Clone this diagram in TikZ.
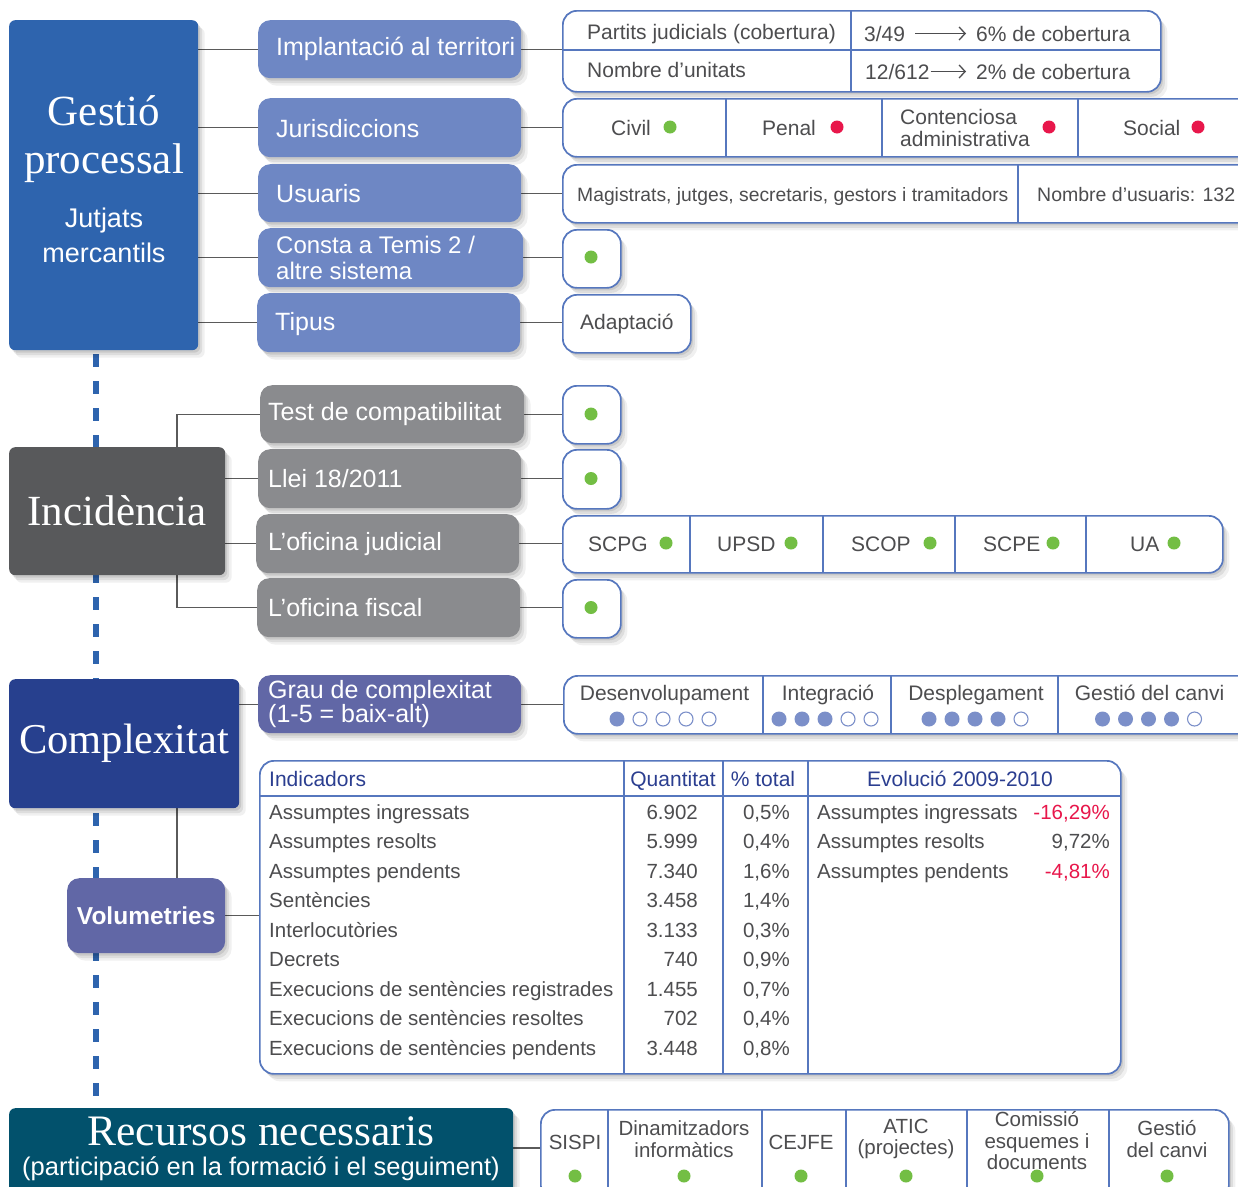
\documentclass[tikz,border=0pt]{standalone}
\usepackage{fontspec}
\setsansfont{Liberation Sans}
\renewcommand{\familydefault}{\sfdefault}
\newfontfamily\ttlfont{Liberation Serif}
\usetikzlibrary{shadows,arrows.meta}
\pgfdeclarelayer{bg}
\pgfsetlayers{bg,main}
\definecolor{gpblue}{HTML}{2E64AE}
\definecolor{midblue}{HTML}{6E87C4}
\definecolor{incgray}{HTML}{58595B}
\definecolor{midgray}{HTML}{8A8B8E}
\definecolor{cxblue}{HTML}{27408E}
\definecolor{purp}{HTML}{6167A6}
\definecolor{recteal}{HTML}{02516C}
\definecolor{bordblue}{HTML}{5677BE}
\definecolor{dotgreen}{HTML}{73BE44}
\definecolor{dotred}{HTML}{E8174B}
\definecolor{textgray}{HTML}{4D4D4F}
\definecolor{hdrblue}{HTML}{2B3E90}
\definecolor{circblue}{HTML}{7B8FC9}
\definecolor{linegray}{HTML}{5A5A5A}
\newcommand\greendot[2]{\fill[dotgreen] (#1,#2) circle[radius=6.5pt];}
\newcommand\reddot[2]{\fill[dotred] (#1,#2) circle[radius=6.5pt];}
\newcommand\ratecircles[2]{\foreach \k in {0,...,4}{\pgfmathsetmacro\xx{#1+(\k-2)*23}\ifnum\k<#2 \fill[circblue] (\xx,719) circle[radius=7.5pt];\else \draw[circblue,line width=1.1pt,fill=white] (\xx,719) circle[radius=7pt];\fi}}
\tikzset{
  shad/.style={drop shadow={shadow xshift=2pt,shadow yshift=-2.5pt,opacity=0.09,fill=black},
               drop shadow={shadow xshift=4pt,shadow yshift=-5pt,opacity=0.08,fill=black},
               drop shadow={shadow xshift=6.5pt,shadow yshift=-7.5pt,opacity=0.06,fill=black}},
  mainbox/.style={anchor=north west, rounded corners=6pt, text=white, inner sep=0pt, shad},
  midbox/.style={anchor=north west, rounded corners=12pt, inner sep=0pt, shad},
  midlbl/.style={text=white, inner sep=0pt, align=left, anchor=west, font=\fontsize{25}{26}\selectfont},
  cellbox/.style={anchor=north west, rounded corners=14pt, draw=bordblue, line width=1.7pt, fill=white, inner sep=0pt, shad},
  conn/.style={draw=linegray, line width=1.3pt},
  divl/.style={draw=bordblue, line width=1.7pt},
  lbl/.style={text=textgray, inner sep=0pt, font=\fontsize{21}{22}\selectfont},
  tlbl/.style={text=textgray, inner sep=0pt, font=\fontsize{20.5}{22}\selectfont},
  hlbl/.style={text=hdrblue, inner sep=0pt, font=\fontsize{21}{22}\selectfont},
  ttl/.style={text=white, inner sep=0pt, font=\ttlfont\fontsize{43}{46}\selectfont},
  sub/.style={text=white, inner sep=0pt, font=\fontsize{27}{28}\selectfont},
  rlbl/.style={text=textgray, inner sep=0pt, align=center, font=\fontsize{20.5}{21.5}\selectfont},
  arr/.style={draw=textgray, line width=1.3pt, -{Straight Barb[length=6pt,width=13pt,line width=1.3pt]}},
}
\begin{document}
\begin{tikzpicture}[x=1pt,y=-1pt]
\useasboundingbox (0,0) rectangle (1238,1186);
\coordinate (brx) at (177,0);
\coordinate (dtop) at (96,354);
\coordinate (dbot) at (96,1108);
\coordinate (recy) at (0,1148);

% ---------- Gestio processal ----------
\node[mainbox, fill=gpblue, minimum width=189pt, minimum height=330pt] (gp) at (9,20) {};
\node[ttl, anchor=base] (gpt1) at (104,125) {Gestió};
\node[ttl, anchor=base] (gpt2) at (104,173) {processal};
\node[sub, anchor=base] (gpt3) at (104,227) {Jutjats};
\node[sub, anchor=base] (gpt4) at (104,262) {mercantils};

\node[midbox, fill=midblue, minimum width=263pt, minimum height=58pt] (impl) at (258,20) {};
\node[midlbl] (implt) at ([xshift=18pt]impl.west) {Implantació al territori};
\node[midbox, fill=midblue, minimum width=263pt, minimum height=59pt] (jur) at (258,98) {};
\node[midlbl] (jurt) at ([xshift=18pt,yshift=-1pt]jur.west) {Jurisdiccions};
\node[midbox, fill=midblue, minimum width=263pt, minimum height=58pt] (usu) at (258,164) {};
\node[midlbl] (usut) at ([xshift=18pt]usu.west) {Usuaris};
\node[midbox, fill=midblue, minimum width=265pt, minimum height=59pt] (cons) at (258,228) {};
\node[midlbl, font=\fontsize{24}{26}\selectfont] (const) at ([xshift=18pt]cons.west) {Consta a Temis 2 /\\altre sistema};
\node[midbox, fill=midblue, minimum width=263pt, minimum height=59pt] (tip) at (257,293) {};
\node[midlbl] (tipt) at ([xshift=18pt,yshift=-1pt]tip.west) {Tipus};

% right cells
\node[cellbox, minimum width=598pt, minimum height=81pt] (t1) at (562,10) {};
\draw[divl] (851,10) -- (851,91);
\draw[divl] (562,50) -- (1160,50);
\node[lbl, anchor=base west] (t1a) at (587,39) {Partits judicials (cobertura)};
\node[lbl, anchor=base west] (t1b) at (587,77) {Nombre d’unitats};
\node[lbl, anchor=base west] (t1c) at (864,41) {3/49};
\node[lbl, anchor=base west] (t1d) at (976,41) {6\% de cobertura};
\node[lbl, anchor=base west] (t1e) at (865,79) {12/612};
\node[lbl, anchor=base west] (t1f) at (976,79) {2\% de cobertura};
\draw[arr, shorten <=10pt, shorten >=10pt] (t1c.east) -- (t1c.east -| t1d.west);
\draw[arr, shorten <=1pt, shorten >=10pt] (t1e.east) -- (t1e.east -| t1f.west);

\node[cellbox, minimum width=720pt, minimum height=58pt] (j) at (562,98) {};
\draw[divl] (726,98) -- (726,156);
\draw[divl] (882,98) -- (882,156);
\draw[divl] (1078,98) -- (1078,156);
\node[lbl, anchor=base west] (jciv) at (611,135) {Civil};
\greendot{670}{127}
\node[lbl, anchor=base west] (jpen) at (762,135) {Penal};
\reddot{837}{127}
\node[lbl, anchor=base west] (jcon1) at (900,124) {Contenciosa};
\node[lbl, anchor=base west] (jcon2) at (900,146) {administrativa};
\reddot{1049}{127}
\node[lbl, anchor=base west] (jsoc) at (1123,135) {Social};
\reddot{1198}{127}

\node[cellbox, minimum width=720pt, minimum height=58pt] (u) at (562,164) {};
\draw[divl] (1018,164) -- (1018,222);
\node[lbl, anchor=base west, font=\fontsize{19.3}{21}\selectfont] (umag) at (577,201) {Magistrats, jutges, secretaris, gestors i tramitadors};
\node[lbl, anchor=base west, font=\fontsize{19.5}{21}\selectfont] (unom) at (1037,201) {Nombre d’usuaris: 132};

\node[cellbox, minimum width=58pt, minimum height=58pt] (c) at (562,229) {};
\greendot{591}{257}
\node[cellbox, minimum width=128pt, minimum height=58pt, text=textgray, font=\fontsize{21}{22}\selectfont] (ad) at (562,294) {Adaptació};

% ---------- Incidencia ----------
\node[mainbox, fill=incgray, minimum width=216pt, minimum height=128pt, font=\ttlfont\fontsize{43}{46}\selectfont] (inc) at (9,447) {Incidència};
\node[midbox, fill=midgray, minimum width=264pt, minimum height=58pt] (test) at (260,385) {};
\node[midlbl] (testt) at ([xshift=8pt]test.west) {Test de compatibilitat};
\node[midbox, fill=midgray, minimum width=263pt, minimum height=59pt] (llei) at (258,449) {};
\node[midlbl] (lleit) at ([xshift=10pt]llei.west) {Llei 18/2011};
\node[midbox, fill=midgray, minimum width=263pt, minimum height=59pt] (ofj) at (256,514) {};
\node[midlbl] (ofjt) at ([xshift=12pt]ofj.west) {L’oficina judicial};
\node[midbox, fill=midgray, minimum width=263pt, minimum height=59pt] (ofs) at (257,578) {};
\node[midlbl] (ofst) at ([xshift=11pt]ofs.west) {L’oficina fiscal};

\node[cellbox, minimum width=58pt, minimum height=58pt] (tdot) at (562,385) {};
\greendot{591}{414}
\node[cellbox, minimum width=58pt, minimum height=59pt] (ldot) at (562,449) {};
\greendot{591}{478.5}
\node[cellbox, minimum width=660pt, minimum height=57pt] (scp) at (562,515) {};
\draw[divl] (690,515) -- (690,572);
\draw[divl] (823,515) -- (823,572);
\draw[divl] (955,515) -- (955,572);
\draw[divl] (1086,515) -- (1086,572);
\node[lbl, anchor=base west] (s1) at (588,551) {SCPG};
\greendot{666}{543}
\node[lbl, anchor=base west] (s2) at (717,551) {UPSD};
\greendot{791}{543}
\node[lbl, anchor=base west] (s3) at (851,551) {SCOP};
\greendot{930}{543}
\node[lbl, anchor=base west] (s4) at (983,551) {SCPE};
\greendot{1053}{543}
\node[lbl, anchor=base west] (s5) at (1130,551) {UA};
\greendot{1174}{543}
\node[cellbox, minimum width=58pt, minimum height=58pt] (fdot) at (562,579) {};
\greendot{591}{607.5}

% ---------- Complexitat ----------
\node[mainbox, fill=cxblue, minimum width=230pt, minimum height=129pt, font=\ttlfont\fontsize{42.5}{46}\selectfont] (cx) at (9,679) {Complexitat};
\node[midbox, fill=purp, minimum width=263pt, minimum height=58pt] (grau) at (258,675) {};
\node[midlbl, font=\fontsize{25}{24}\selectfont] (graut) at ([xshift=10pt]grau.west) {Grau de complexitat\\(1-5 = baix-alt)};
\node[cellbox, minimum width=720pt, minimum height=58pt] (cplx) at (563,675) {};
\draw[divl] (763,675) -- (763,733);
\draw[divl] (891,675) -- (891,733);
\draw[divl] (1058,675) -- (1058,733);
\node[lbl, anchor=base] (k1) at (664.5,700) {Desenvolupament};
\node[lbl, anchor=base] (k2) at (828,700) {Integració};
\node[lbl, anchor=base] (k3) at (976,700) {Desplegament};
\node[lbl, anchor=base] (k4) at (1149.5,700) {Gestió del canvi};
\ratecircles{663}{1}
\ratecircles{825}{3}
\ratecircles{975}{4}
\ratecircles{1148.5}{4}

% ---------- Volumetries ----------
\node[mainbox, fill=purp, rounded corners=12pt, minimum width=158pt, minimum height=75pt, font=\bfseries\fontsize{24.5}{26}\selectfont] (vol) at (67,878) {Volumetries};
\node[cellbox, minimum width=861pt, minimum height=313pt] (tbl) at (259,760) {};
\draw[divl] (259,796) -- (1120,796);
\draw[divl] (624,760) -- (624,1073);
\draw[divl] (723,760) -- (723,1073);
\draw[divl] (808,760) -- (808,1073);
\node[hlbl, anchor=base west] (h1) at (269,786) {Indicadors};
\node[hlbl, anchor=base] (h2) at (673,786) {Quantitat};
\node[hlbl, anchor=base] (h3) at (763,786) {\% total};
\node[hlbl, anchor=base] (h4) at (960,786) {Evolució 2009-2010};
\foreach \i/\lab/\q/\p in {
  1/Assumptes ingressats/6.902/{0,5\%},
  2/Assumptes resolts/5.999/{0,4\%},
  3/Assumptes pendents/7.340/{1,6\%},
  4/Sentències/3.458/{1,4\%},
  5/Interlocutòries/3.133/{0,3\%},
  6/Decrets/740/{0,9\%},
  7/Execucions de sentències registrades/1.455/{0,7\%},
  8/Execucions de sentències resoltes/702/{0,4\%},
  9/Execucions de sentències pendents/3.448/{0,8\%}}{
  \pgfmathsetmacro\yy{819+29.5*(\i-1)}
  \node[tlbl, anchor=base west] (ia\i) at (269,\yy) {\lab};
  \node[tlbl, anchor=base east] (iq\i) at (698,\yy) {\q};
  \node[tlbl, anchor=base east] (ip\i) at (790,\yy) {\p};
}
\node[tlbl, anchor=base west] (ev1) at (817,819) {Assumptes ingressats};
\node[tlbl, anchor=base east, text=dotred] (ev1v) at (1110,819) {-16,29\%};
\node[tlbl, anchor=base west] (ev2) at (817,848.5) {Assumptes resolts};
\node[tlbl, anchor=base east] (ev2v) at (1110,848.5) {9,72\%};
\node[tlbl, anchor=base west] (ev3) at (817,878) {Assumptes pendents};
\node[tlbl, anchor=base east, text=dotred] (ev3v) at (1110,878) {-4,81\%};

% ---------- Recursos necessaris ----------
\node[mainbox, fill=recteal, minimum width=504pt, minimum height=92pt] (rec) at (9,1108) {};
\node[text=white, inner sep=0pt, font=\ttlfont\fontsize{43.5}{46}\selectfont, anchor=base] (rect1) at (261,1145) {Recursos necessaris};
\node[text=white, inner sep=0pt, font=\fontsize{25.5}{26}\selectfont, anchor=base] (rect2) at (261,1175) {(participació en la formació i el seguiment)};
\node[cellbox, minimum width=688pt, minimum height=90pt] (recr) at (540,1109) {};
\draw[divl] (608,1109) -- (608,1199);
\draw[divl] (762,1109) -- (762,1199);
\draw[divl] (846,1109) -- (846,1199);
\draw[divl] (967,1109) -- (967,1199);
\draw[divl] (1109,1109) -- (1109,1199);
\node[rlbl] (r1) at (575,1142) {SISPI};
\node[rlbl] (r2) at (684,1139) {Dinamitzadors\\informàtics};
\node[rlbl] (r3) at (801,1142) {CEJFE};
\node[rlbl] (r4) at (906,1139) {ATIC\\(projectes)};
\node[rlbl] (r5) at (1037,1141) {Comissió\\esquemes i\\documents};
\node[rlbl] (r6) at (1167,1139) {Gestió\\del canvi};
\greendot{575}{1176}
\greendot{684}{1176}
\greendot{801}{1176}
\greendot{906}{1176}
\greendot{1037}{1176}
\greendot{1167}{1176}

% ---------- connectors (behind) ----------
\begin{pgfonlayer}{bg}
\fill[white] (0,0) rectangle (1238,1186);
\draw[gpblue, line width=5.5pt, dash pattern=on 13pt off 14pt] (dtop) -- (dbot);
\draw[conn] (gp.east |- impl.west) -- (impl.west);
\draw[conn] (gp.east |- jur.west) -- (jur.west);
\draw[conn] (gp.east |- usu.west) -- (usu.west);
\draw[conn] (gp.east |- cons.west) -- (cons.west);
\draw[conn] (gp.east |- tip.west) -- (tip.west);
\draw[conn] (impl.east) -- (t1.west |- impl.east);
\draw[conn] (jur.east) -- (j.west |- jur.east);
\draw[conn] (usu.east) -- (u.west |- usu.east);
\draw[conn] (cons.east) -- (c.west |- cons.east);
\draw[conn] (tip.east) -- (ad.west |- tip.east);
\draw[conn] (inc.north -| brx) |- (test.west);
\draw[conn] (inc.east |- llei.west) -- (llei.west);
\draw[conn] (inc.east |- ofj.west) -- (ofj.west);
\draw[conn] (inc.south -| brx) |- (ofs.west);
\draw[conn] (test.east) -- (tdot.west |- test.east);
\draw[conn] (llei.east) -- (ldot.west |- llei.east);
\draw[conn] (ofj.east) -- (scp.west |- ofj.east);
\draw[conn] (ofs.east) -- (fdot.west |- ofs.east);
\draw[conn] (cx.east |- grau.west) -- (grau.west);
\draw[conn] (grau.east) -- (cplx.west |- grau.east);
\draw[conn] (cx.south -| brx) -- (vol.north -| brx);
\draw[conn] (vol.east) -- (tbl.west |- vol.east);
\draw[conn] (rec.east |- recy) -- (recr.west |- recy);
\end{pgfonlayer}
\end{tikzpicture}
\end{document}
